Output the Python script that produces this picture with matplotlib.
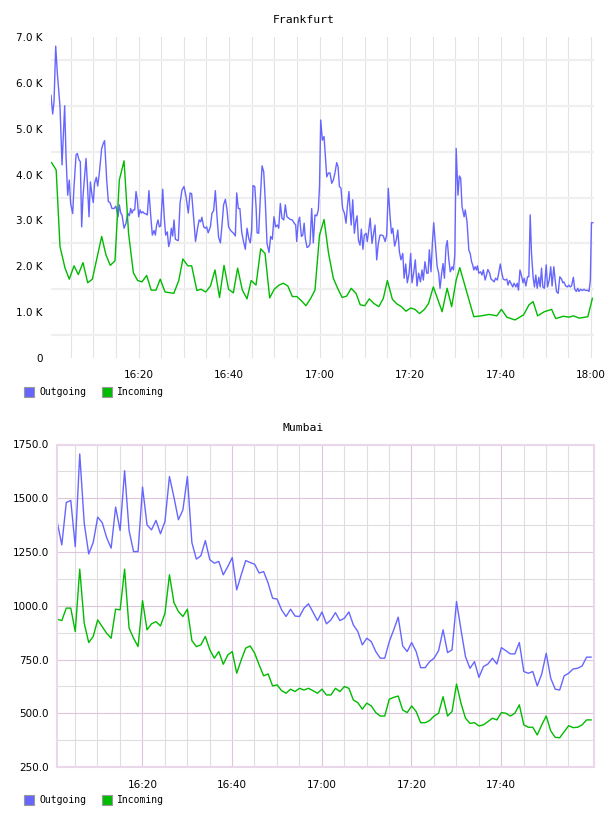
import numpy as np
import pandas as pd
import matplotlib
matplotlib.use("Agg")
import matplotlib.pyplot as plt
import matplotlib.dates as mdates
from matplotlib.patches import Rectangle
from matplotlib.ticker import FixedLocator, MultipleLocator, FuncFormatter


BASE = pd.Timestamp("2024-01-01 16:00:00")

# Frankfurt outgoing: (minutes after 16:00, value in K)
fra_outgoing = [
    (0.66, 5.73), (1.03, 5.32), (1.33, 5.59), (1.7, 6.80), (2.06, 6.21), (2.65, 5.48),
    (3.1, 4.21), (3.68, 5.50), (3.98, 4.39), (4.35, 3.55), (4.7, 3.88), (5.0, 3.37),
    (5.45, 3.15), (5.75, 3.74), (6.2, 4.43), (6.48, 4.46), (6.85, 4.32), (7.14, 4.28),
    (7.44, 2.86), (7.73, 3.52), (8.03, 3.88), (8.4, 4.35), (8.7, 3.81), (9.06, 3.08),
    (9.36, 3.84), (9.72, 3.55), (10.0, 3.39), (10.3, 3.81), (10.68, 3.94), (10.98, 3.75),
    (11.34, 4.03), (11.86, 4.57), (12.22, 4.68), (12.5, 4.74), (12.97, 3.88), (13.33, 3.41),
    (13.7, 3.39), (14.14, 3.26), (14.59, 3.26), (15.0, 3.31), (15.47, 3.08), (15.76, 3.34),
    (16.07, 3.16), (16.35, 3.12), (16.8, 2.83), (17.24, 2.94), (17.6, 3.16), (17.97, 3.10),
    (18.27, 3.26), (18.56, 3.16), (18.86, 3.23), (19.16, 3.23), (19.45, 3.63), (19.74, 3.45),
    (20.04, 3.08), (20.33, 3.23), (20.62, 3.16), (20.92, 3.19), (21.2, 3.16), (21.66, 3.14),
    (21.95, 3.12), (22.3, 3.65), (22.7, 3.10), (23.05, 2.68), (23.43, 2.78), (23.72, 2.68),
    (24.0, 2.90), (24.3, 3.01), (24.6, 2.86), (24.9, 2.88), (25.35, 3.68), (25.7, 3.05),
    (26.0, 2.68), (26.36, 2.75), (26.67, 2.43), (26.96, 2.54), (27.25, 2.83), (27.55, 2.66),
    (27.85, 3.01), (28.14, 2.59), (28.5, 2.57), (28.8, 2.56), (29.17, 3.37), (29.6, 3.66),
    (30.05, 3.74), (30.5, 3.52), (31.0, 3.16), (31.4, 3.60), (31.75, 3.58), (32.1, 3.16),
    (32.6, 2.54), (33.1, 2.86), (33.4, 3.01), (33.74, 2.97), (34.0, 3.07), (34.4, 2.86),
    (34.76, 2.83), (35.06, 2.86), (35.4, 2.73), (35.9, 2.87), (36.24, 3.16), (36.6, 3.21),
    (36.98, 3.65), (37.35, 3.08), (37.7, 2.63), (38.1, 2.51), (38.45, 2.90), (38.8, 3.34),
    (39.2, 3.46), (39.56, 3.23), (39.9, 2.86), (40.3, 2.79), (40.66, 2.75), (41.0, 2.72),
    (41.4, 2.66), (41.7, 3.60), (42.05, 3.26), (42.4, 3.26), (42.8, 2.75), (43.16, 2.56),
    (43.6, 2.37), (43.98, 2.83), (44.35, 2.61), (44.7, 2.51), (45.0, 2.79), (45.3, 3.76),
    (45.7, 3.74), (46.0, 3.26), (46.2, 2.73), (46.56, 2.72), (46.9, 3.45), (47.3, 4.19),
    (47.67, 4.06), (48.0, 3.45), (48.4, 2.50), (48.84, 2.30), (49.2, 2.65), (49.57, 2.59),
    (49.94, 3.08), (50.3, 2.86), (50.68, 2.90), (50.98, 2.83), (51.34, 3.37), (51.7, 3.05),
    (52.1, 3.01), (52.44, 3.34), (52.8, 3.08), (53.2, 3.05), (53.55, 3.02), (54.0, 3.01),
    (54.4, 2.94), (54.74, 2.90), (54.96, 2.54), (55.3, 2.97), (55.6, 3.07), (56.0, 2.65),
    (56.3, 2.68), (56.6, 2.94), (56.86, 2.61), (57.24, 2.41), (57.6, 2.43), (57.9, 2.49),
    (58.27, 3.26), (58.63, 2.51), (59.0, 3.12), (59.4, 3.10), (59.74, 3.23), (60.0, 3.74),
    (60.26, 5.19), (60.63, 4.75), (61.0, 4.83), (61.3, 4.39), (61.6, 3.95), (61.95, 4.03),
    (62.3, 4.04), (62.7, 3.81), (63.05, 3.88), (63.4, 4.03), (63.8, 4.26), (64.1, 4.17),
    (64.4, 3.74), (64.75, 3.70), (65.1, 3.26), (65.5, 3.16), (65.86, 2.94), (66.15, 3.30),
    (66.5, 3.63), (66.8, 3.16), (67.0, 2.90), (67.34, 3.45), (67.7, 2.72), (68.0, 2.97),
    (68.3, 3.10), (68.6, 2.57), (68.95, 2.46), (69.24, 2.81), (69.6, 2.37), (69.9, 2.68),
    (70.3, 2.72), (70.56, 2.54), (70.94, 2.83), (71.2, 3.05), (71.6, 2.50), (72.0, 2.75),
    (72.27, 2.90), (72.64, 2.14), (73.0, 2.50), (73.37, 2.68), (73.75, 2.68), (74.1, 2.66),
    (74.5, 2.54), (74.85, 2.68), (75.2, 3.70), (75.6, 3.08), (75.9, 2.72), (76.2, 2.83),
    (76.6, 2.44), (77.0, 2.59), (77.3, 2.79), (77.65, 2.32), (78.0, 2.14), (78.4, 2.28),
    (78.7, 1.74), (79.05, 2.05), (79.4, 1.64), (79.8, 1.85), (80.15, 2.28), (80.44, 1.64),
    (80.8, 1.85), (81.17, 2.14), (81.55, 1.57), (81.9, 1.85), (82.3, 1.66), (82.65, 1.92),
    (82.94, 1.70), (83.3, 2.10), (83.7, 1.85), (84.0, 1.85), (84.27, 2.36), (84.64, 1.88),
    (84.94, 2.50), (85.24, 2.95), (85.6, 2.50), (86.0, 1.99), (86.34, 1.85), (86.63, 1.52),
    (87.0, 1.85), (87.3, 2.06), (87.6, 1.74), (87.96, 2.43), (88.24, 2.56), (88.55, 2.17),
    (88.9, 1.88), (89.3, 1.99), (89.6, 1.92), (89.9, 2.25), (90.2, 4.57), (90.6, 3.55),
    (90.9, 3.97), (91.2, 3.92), (91.5, 3.30), (91.96, 3.08), (92.2, 3.23), (92.6, 2.97),
    (93.0, 2.35), (93.3, 2.28), (93.6, 2.10), (93.85, 2.03), (94.1, 1.92), (94.4, 1.99),
    (94.7, 1.92), (94.9, 2.01), (95.2, 1.85), (95.6, 1.88), (95.9, 1.81), (96.2, 1.92),
    (96.6, 1.70), (96.9, 1.81), (97.2, 1.93), (97.6, 1.85), (97.9, 1.72), (98.3, 1.69),
    (98.6, 1.66), (98.9, 1.74), (99.3, 1.70), (99.6, 1.85), (99.96, 2.05), (100.3, 1.85),
    (100.6, 1.72), (101.0, 1.70), (101.4, 1.72), (101.66, 1.59), (102.0, 1.69), (102.3, 1.63),
    (102.7, 1.55), (103.0, 1.63), (103.4, 1.55), (103.7, 1.63), (103.97, 1.48), (104.3, 1.92),
    (104.6, 1.81), (104.97, 1.64), (105.25, 1.74), (105.6, 1.57), (105.97, 1.77), (106.26, 1.77),
    (106.56, 3.12), (106.85, 2.28), (107.2, 1.77), (107.5, 1.55), (107.8, 1.81), (108.1, 1.52),
    (108.46, 1.76), (108.76, 1.55), (109.06, 1.96), (109.35, 1.55), (109.7, 1.52), (110.1, 2.03),
    (110.4, 1.55), (110.76, 1.70), (111.1, 1.99), (111.4, 1.57), (111.78, 1.99), (112.08, 1.70),
    (112.37, 1.45), (112.74, 1.41), (113.1, 1.77), (113.5, 1.72), (113.77, 1.64), (114.0, 1.66),
    (114.4, 1.57), (114.76, 1.55), (115.1, 1.59), (115.4, 1.55), (115.7, 1.57), (116.1, 1.76),
    (116.4, 1.50), (116.75, 1.45), (117.06, 1.52), (117.35, 1.45), (117.7, 1.50), (118.1, 1.47),
    (118.45, 1.50), (118.8, 1.47), (119.2, 1.48), (119.56, 1.45), (119.85, 1.70), (120.1, 2.95),
    (120.4, 2.95),
]

# Frankfurt incoming: (minutes after 16:00, value in K)
fra_incoming = [
    (0.8, 4.26), (1.8, 4.10), (2.65, 2.43), (3.76, 1.96), (4.7, 1.72), (5.75, 2.01),
    (6.7, 1.82), (7.73, 2.08), (8.77, 1.64), (9.8, 1.72), (11.86, 2.65), (12.8, 2.25),
    (13.77, 2.02), (14.8, 2.12), (15.76, 3.88), (16.8, 4.30), (17.8, 2.72), (18.86, 1.86),
    (19.8, 1.69), (20.77, 1.66), (21.8, 1.80), (22.8, 1.48), (23.87, 1.48), (24.8, 1.72),
    (25.86, 1.44), (27.8, 1.41), (28.9, 1.69), (29.8, 2.16), (30.9, 2.01), (31.75, 2.01),
    (32.9, 1.47), (33.8, 1.50), (34.85, 1.44), (35.9, 1.57), (36.9, 1.92), (37.9, 1.32),
    (38.9, 2.02), (39.9, 1.50), (40.96, 1.42), (41.9, 1.96), (42.95, 1.48), (43.98, 1.29),
    (44.9, 1.69), (45.97, 1.59), (47.0, 2.38), (47.96, 2.28), (48.99, 1.31), (50.0, 1.50),
    (51.05, 1.59), (52.0, 1.63), (53.0, 1.57), (54.0, 1.34), (55.0, 1.34), (56.07, 1.24),
    (57.0, 1.14), (58.05, 1.30), (59.0, 1.48), (60.0, 2.68), (61.0, 3.02), (62.0, 2.28),
    (63.05, 1.74), (64.0, 1.52), (65.0, 1.32), (66.0, 1.35), (67.0, 1.52), (68.07, 1.41),
    (69.0, 1.16), (70.0, 1.14), (71.0, 1.29), (72.0, 1.19), (73.1, 1.12), (74.1, 1.30),
    (75.0, 1.69), (76.1, 1.28), (77.1, 1.18), (78.1, 1.12), (79.1, 1.02), (80.15, 1.09),
    (81.1, 1.06), (82.1, 0.97), (83.2, 1.06), (84.1, 1.19), (85.15, 1.55), (86.2, 1.26),
    (87.1, 1.01), (88.2, 1.52), (89.2, 1.12), (90.2, 1.70), (91.0, 1.97), (94.1, 0.90),
    (95.8, 0.92), (97.5, 0.95), (99.2, 0.92), (100.2, 1.06), (101.4, 0.89), (103.2, 0.83),
    (105.1, 0.94), (106.3, 1.16), (107.2, 1.23), (108.2, 0.92), (109.7, 1.01), (111.3, 1.06),
    (112.2, 0.86), (113.9, 0.91), (115.2, 0.89), (116.1, 0.92), (117.4, 0.87), (119.3, 0.90),
    (120.3, 1.30),
]

# Mumbai: one sample per minute starting at 16:01
mum_start = "2024-01-01 16:01:03"
mum_outgoing = [
    1387, 1283, 1480, 1490, 1275, 1706, 1384, 1241, 1294, 1412,
    1387, 1317, 1268, 1459, 1350, 1628, 1350, 1252, 1252, 1552,
    1376, 1353, 1397, 1335, 1392, 1601, 1505, 1400, 1446, 1601,
    1294, 1217, 1232, 1303, 1214, 1198, 1206, 1144, 1182, 1224,
    1074, 1144, 1210, 1201, 1193, 1152, 1159, 1105, 1035, 1031,
    981, 950, 984, 952, 950, 989, 1009, 970, 931, 971,
    916, 934, 968, 931, 942, 971, 911, 880, 818, 849,
    833, 787, 756, 756, 833, 888, 947, 813, 787, 829,
    787, 712, 712, 740, 756, 791, 888, 782, 795, 1020,
    888, 763, 709, 740, 667, 717, 729, 756, 729, 805,
    791, 776, 776, 829, 694, 686, 694, 627, 683, 779,
    663, 612, 608, 674, 686, 706, 709, 720, 761, 761,
]
mum_incoming = [
    937, 931, 989, 989, 880, 1170, 919, 829, 857, 934,
    903, 872, 849, 984, 981, 1170, 896, 849, 810, 1024,
    888, 916, 926, 906, 965, 1144, 1015, 973, 950, 984,
    838, 810, 818, 857, 795, 756, 787, 728, 771, 787,
    686, 748, 803, 813, 779, 725, 674, 683, 627, 632,
    605, 593, 612, 601, 616, 608, 616, 605, 593, 612,
    585, 585, 616, 601, 624, 616, 562, 549, 519, 547,
    534, 503, 487, 487, 565, 574, 580, 515, 503, 534,
    508, 456, 456, 466, 487, 500, 577, 487, 508, 636,
    546, 477, 453, 456, 441, 446, 461, 477, 469, 503,
    500, 487, 500, 539, 446, 435, 435, 399, 446, 487,
    418, 388, 386, 414, 442, 433, 435, 446, 469, 469,
]

series_names = ["Outgoing", "Incoming"]
titles = ["Frankfurt", "Mumbai"]

BLUE = "#6666ff"
GREEN = "#00bb00"
W, H = 608, 816


def box(l, t, r, b):
    return [l / W, 1 - b / H, (r - l) / W, (b - t) / H]


def minutes(m):
    return BASE + pd.Timedelta(minutes=m)


def legend(fig, yc):
    for x0, color, name in zip([24, 102], [BLUE, GREEN], series_names):
        fig.add_artist(Rectangle((x0 / W, 1 - (yc + 5) / H), 10 / W, 10 / H,
                                 transform=fig.transFigure, facecolor=color,
                                 edgecolor="#999999", lw=0.8))
        fig.text((x0 + 15) / W, 1 - yc / H, name, family="DejaVu Sans Mono",
                 fontsize=7, va="center", ha="left")


def time_axis(ax, last_minute):
    major = [mdates.date2num(minutes(m)) for m in range(20, last_minute + 1, 20)]
    minor = [mdates.date2num(minutes(m)) for m in range(5, last_minute + 1, 5)]
    ax.xaxis.set_major_locator(FixedLocator(major))
    ax.xaxis.set_minor_locator(FixedLocator(minor))
    ax.xaxis.set_major_formatter(mdates.DateFormatter("%H:%M"))
    ax.tick_params(which="both", length=0, labelsize=7.5)
    ax.tick_params(axis="x", pad=9)
    ax.tick_params(axis="y", pad=6)


def main():
    fig = plt.figure(figsize=(W / 100, H / 100), dpi=100)

    # Frankfurt
    ax1 = fig.add_axes(box(51, 37, 594, 358))
    t, v = zip(*fra_outgoing)
    ax1.plot([minutes(m) for m in t], v, color=BLUE, lw=1.0)
    t, v = zip(*fra_incoming)
    ax1.plot([minutes(m) for m in t], v, color=GREEN, lw=1.0)
    ax1.set_xlim(minutes(0.66), minutes(120.66))
    ax1.set_ylim(0, 7)
    ax1.yaxis.set_major_locator(FixedLocator(range(8)))
    ax1.yaxis.set_minor_locator(FixedLocator(np.arange(0.5, 7, 1)))
    ax1.yaxis.set_major_formatter(FuncFormatter(lambda y, p: "0" if y == 0 else f"{y:.1f} K"))
    time_axis(ax1, 120)
    ax1.grid(axis="x", which="both", color="#e3e3e3", lw=0.8)
    ax1.grid(axis="y", which="minor", color="#efefef", lw=1.6)
    for s in ax1.spines.values():
        s.set_visible(False)
    fig.text(303.5 / W, 1 - 20 / H, titles[0], family="DejaVu Sans Mono",
             fontsize=8.2, ha="center", va="center")
    legend(fig, 392)

    # Mumbai
    ax2 = fig.add_axes(box(57, 444.5, 594, 767))
    times = pd.date_range(mum_start, periods=len(mum_outgoing), freq="min")
    ax2.plot(times, mum_outgoing, color=BLUE, lw=1.0)
    ax2.plot(times, mum_incoming, color=GREEN, lw=1.0)
    ax2.set_xlim(minutes(0.98), minutes(120.7))
    ax2.set_ylim(250, 1750)
    ax2.yaxis.set_major_locator(MultipleLocator(250))
    ax2.yaxis.set_minor_locator(MultipleLocator(125))
    ax2.yaxis.set_major_formatter(FuncFormatter(lambda y, p: f"{y:.1f}"))
    time_axis(ax2, 115)
    ax2.grid(which="minor", color="#dedede", lw=0.8)
    ax2.grid(which="major", color="#dcc6dc", lw=0.8)
    for s in ax2.spines.values():
        s.set_color("#ead8ea")
        s.set_linewidth(1.5)
    fig.text(303 / W, 1 - 428 / H, titles[1], family="DejaVu Sans Mono",
             fontsize=8.2, ha="center", va="center")
    legend(fig, 800)

    fig.savefig("out.png", dpi=100)


if __name__ == "__main__":
    main()
